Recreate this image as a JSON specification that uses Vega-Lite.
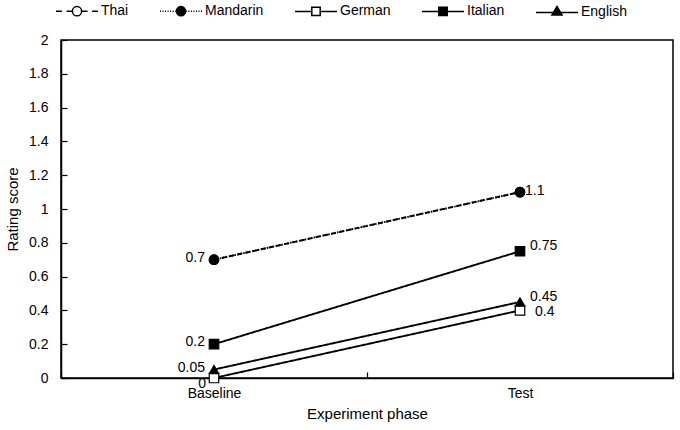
{
  "$schema": "https://vega.github.io/schema/vega-lite/v6.json",
  "autosize": "none",
  "width": 612,
  "height": 338,
  "padding": {"left": 61, "top": 40, "right": 7, "bottom": 52},
  "background": "white",
  "data": {
    "values": [
      {"series": "Thai", "phase": "Baseline", "value": 0.7},
      {"series": "Thai", "phase": "Test", "value": 1.1},
      {"series": "Mandarin", "phase": "Baseline", "value": 0.7},
      {"series": "Mandarin", "phase": "Test", "value": 1.1},
      {"series": "German", "phase": "Baseline", "value": 0},
      {"series": "German", "phase": "Test", "value": 0.4},
      {"series": "Italian", "phase": "Baseline", "value": 0.2},
      {"series": "Italian", "phase": "Test", "value": 0.75},
      {"series": "English", "phase": "Baseline", "value": 0.05},
      {"series": "English", "phase": "Test", "value": 0.45}
    ]
  },
  "encoding": {
    "x": {
      "field": "phase",
      "type": "nominal",
      "sort": ["Baseline", "Test"],
      "scale": {"type": "band", "paddingInner": 0, "paddingOuter": 0},
      "axis": {
        "title": "Experiment phase",
        "labelAngle": 0,
        "tickBand": "extent",
        "tickSize": -6,
        "labelPadding": 14,
        "titlePadding": 6
      }
    },
    "y": {
      "field": "value",
      "type": "quantitative",
      "scale": {"domain": [0, 2]},
      "axis": {
        "title": "Rating score",
        "values": [0, 0.2, 0.4, 0.6, 0.8, 1, 1.2, 1.4, 1.6, 1.8, 2],
        "format": "~g",
        "tickSize": -6,
        "labelPadding": 19,
        "titlePadding": 8,
        "grid": false
      }
    }
  },
  "layer": [
    {
      "mark": {"type": "line", "strokeWidth": 1.9},
      "encoding": {
        "detail": {"field": "series"},
        "color": {
          "field": "series",
          "type": "nominal",
          "scale": {
            "domain": ["Thai", "Mandarin", "German", "Italian", "English"],
            "range": ["black", "black", "black", "black", "black"]
          },
          "legend": {
            "orient": "none",
            "legendX": -6,
            "legendY": -51,
            "direction": "horizontal",
            "title": null,
            "padding": 0,
            "columnPadding": 28,
            "labelOffset": 2,
            "symbolSize": 1764,
            "symbolStrokeWidth": 1.5,
            "encode": {
              "symbols": {
                "update": {
                  "shape": {"signal": "datum.value == 'Thai' ? 'M-1,0H-0.72M-0.5,0H-0.22M0.22,0H0.5M0.72,0H1M0.22,0A0.22,0.22,0,1,1,-0.22,0A0.22,0.22,0,1,1,0.22,0Z' : datum.value == 'Mandarin' ? 'M-1,0H-0.95M-0.88,0H-0.83M-0.76,0H-0.71M-0.64,0H-0.59M-0.52,0H-0.47M-0.4,0H-0.35M-0.28,0H-0.23M0.23,0H0.28M0.35,0H0.4M0.47,0H0.52M0.59,0H0.64M0.71,0H0.76M0.83,0H0.88M0.95,0H1M0.22,0A0.22,0.22,0,1,1,-0.22,0A0.22,0.22,0,1,1,0.22,0Z' : datum.value == 'German' ? 'M-1,0H-0.2M0.2,0H1M-0.2,-0.2H0.2V0.2H-0.2Z' : datum.value == 'Italian' ? 'M-1,0H1M-0.2,-0.2H0.2V0.2H-0.2Z' : 'M-1,0.05H1M0,-0.24L0.24,0.17L-0.24,0.17Z'"},
                  "fill": {"signal": "datum.value == 'Thai' || datum.value == 'German' ? 'white' : 'black'"},
                  "stroke": {"value": "black"},
                  "strokeWidth": {"value": 1.5},
                  "opacity": {"value": 1}
                }
              }
            }
          }
        },
        "strokeDash": {
          "field": "series",
          "type": "nominal",
          "scale": {
            "range": [[1, 0], [1, 0], [1, 0], [1.5, 1.5], [5, 3]]
          },
          "legend": null
        }
      }
    },
    {
      "mark": {"type": "point", "filled": true, "stroke": "black", "strokeWidth": 1.2, "size": 90, "opacity": 1},
      "encoding": {
        "shape": {
          "field": "series",
          "type": "nominal",
          "scale": {
            "range": ["triangle-up", "square", "square", "circle", "circle"]
          },
          "legend": null
        },
        "fill": {
          "field": "series",
          "type": "nominal",
          "scale": {
            "range": ["black", "white", "black", "black", "white"]
          },
          "legend": null
        }
      }
    },
    {
      "transform": [
        {"filter": "datum.phase == 'Baseline' && (datum.series == 'Mandarin' || datum.series == 'Italian' || datum.series == 'English')"}
      ],
      "mark": {"type": "text", "align": "right", "baseline": "middle", "dx": -9, "dy": -2, "fontSize": 14, "font": "Liberation Sans"},
      "encoding": {"text": {"field": "value", "type": "quantitative", "format": "~g"}}
    },
    {
      "transform": [{"filter": "datum.phase == 'Baseline' && datum.series == 'German'"}],
      "mark": {"type": "text", "align": "right", "baseline": "middle", "dx": -8, "dy": 6, "fontSize": 14, "font": "Liberation Sans"},
      "encoding": {"text": {"field": "value", "type": "quantitative", "format": "~g"}}
    },
    {
      "transform": [{"filter": "datum.phase == 'Test' && datum.series == 'Mandarin'"}],
      "mark": {"type": "text", "align": "left", "baseline": "middle", "dx": 5, "dy": -1, "fontSize": 14, "font": "Liberation Sans"},
      "encoding": {"text": {"field": "value", "type": "quantitative", "format": "~g"}}
    },
    {
      "transform": [{"filter": "datum.phase == 'Test' && (datum.series == 'Italian' || datum.series == 'English')"}],
      "mark": {"type": "text", "align": "left", "baseline": "middle", "dx": 10, "dy": -5, "fontSize": 14, "font": "Liberation Sans"},
      "encoding": {"text": {"field": "value", "type": "quantitative", "format": "~g"}}
    },
    {
      "transform": [{"filter": "datum.phase == 'Test' && datum.series == 'German'"}],
      "mark": {"type": "text", "align": "left", "baseline": "middle", "dx": 15, "dy": 2, "fontSize": 14, "font": "Liberation Sans"},
      "encoding": {"text": {"field": "value", "type": "quantitative", "format": "~g"}}
    }
  ],
  "config": {
    "font": "Liberation Sans",
    "view": {"stroke": "black", "strokeWidth": 1.5},
    "axis": {
      "domainColor": "black",
      "domainWidth": 1.5,
      "tickColor": "black",
      "tickWidth": 1.2,
      "labelColor": "black",
      "labelFont": "Liberation Sans",
      "labelFontSize": 14,
      "titleFont": "Liberation Sans",
      "titleFontSize": 15,
      "titleFontWeight": "normal",
      "titleColor": "black"
    },
    "legend": {
      "labelFont": "Liberation Sans",
      "labelFontSize": 14,
      "labelColor": "black"
    }
  }
}
